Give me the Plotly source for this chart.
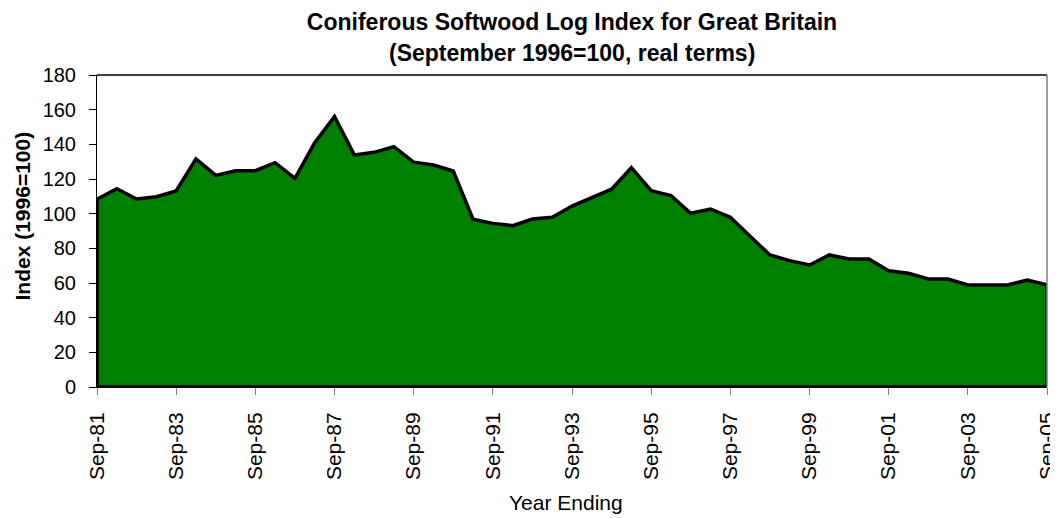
import plotly.graph_objects as go

# Half-yearly index values, Sep-81 ... Sep-05 (Sep and Mar points)
periods = [
    "Sep-81", "Mar-82", "Sep-82", "Mar-83", "Sep-83", "Mar-84", "Sep-84", "Mar-85",
    "Sep-85", "Mar-86", "Sep-86", "Mar-87", "Sep-87", "Mar-88", "Sep-88", "Mar-89",
    "Sep-89", "Mar-90", "Sep-90", "Mar-91", "Sep-91", "Mar-92", "Sep-92", "Mar-93",
    "Sep-93", "Mar-94", "Sep-94", "Mar-95", "Sep-95", "Mar-96", "Sep-96", "Mar-97",
    "Sep-97", "Mar-98", "Sep-98", "Mar-99", "Sep-99", "Mar-00", "Sep-00", "Mar-01",
    "Sep-01", "Mar-02", "Sep-02", "Mar-03", "Sep-03", "Mar-04", "Sep-04", "Mar-05",
    "Sep-05",
]
index_values = [
    108.3, 114.4, 108.5, 109.8, 113.1, 131.6, 122.1, 124.8,
    124.8, 129.4, 120.4, 141.0, 156.0, 133.9, 135.4, 138.7,
    129.7, 128.1, 124.6, 96.8, 94.4, 93.1, 96.9, 97.9,
    104.4, 109.2, 114.1, 126.6, 113.3, 110.4, 100.2, 102.7,
    97.9, 87.0, 76.2, 72.9, 70.4, 76.2, 73.9, 73.9,
    67.1, 65.6, 62.3, 62.3, 58.9, 58.9, 58.9, 61.7,
    58.9,
]
tick_labels = ["Sep-81", "Sep-83", "Sep-85", "Sep-87", "Sep-89", "Sep-91", "Sep-93",
               "Sep-95", "Sep-97", "Sep-99", "Sep-01", "Sep-03", "Sep-05"]

title_line1 = "Coniferous Softwood Log Index for Great Britain"
title_line2 = "(September 1996=100, real terms)"
x_title = "Year Ending"
y_title = "Index (1996=100)"

FONT = "Liberation Sans, Arial, sans-serif"

# the page body has an 8px default margin; size the figure so the plot area
# lands at x 97..1047, y 75..387 of the 1058x518 window
W, H = 1050, 510
OFF = 8
PLOT_TOP, PLOT_H = 75, 312

pos = list(range(len(index_values)))
tick_pos = [pos[periods.index(t)] for t in tick_labels]

# closed polygon (area with outline around the whole shape)
xs = pos + [pos[-1], pos[0], pos[0]]
ys = index_values + [0, 0, index_values[0]]


def py(px):
    """window pixel row -> paper y"""
    return (PLOT_TOP + PLOT_H - px) / PLOT_H


fig = go.Figure()
fig.add_trace(go.Scatter(
    x=xs, y=ys, mode="lines", fill="toself",
    fillcolor="#008000", line=dict(color="#000000", width=3.5),
    hoverinfo="skip", showlegend=False,
))

fig.update_layout(
    width=W, height=H,
    margin=dict(l=97 - OFF, r=W - (1047 - OFF), t=PLOT_TOP - OFF,
                b=H - (PLOT_TOP - OFF) - PLOT_H, autoexpand=False),
    paper_bgcolor="white", plot_bgcolor="white",
    font=dict(family=FONT, color="black", size=20),
    title=dict(
        text="<b>" + title_line1 + "</b>",
        x=0.5, xref="paper", xanchor="center",
        y=1 - (21.5 - OFF) / H, yref="container", yanchor="middle",
        font=dict(family=FONT, size=23, color="black"),
    ),
    xaxis=dict(
        range=[pos[0], pos[-1]],
        tickmode="array", tickvals=tick_pos, ticktext=tick_labels,
        tickangle=-90, ticks="outside", ticklen=7, tickcolor="#808080", tickwidth=1,
        ticklabelstandoff=9,
        showline=True, linecolor="black", linewidth=1,
        showgrid=False, zeroline=False,
        tickfont=dict(size=21),
    ),
    yaxis=dict(
        range=[0, 180], dtick=20, tick0=0,
        ticks="outside", ticklen=7, tickcolor="black", tickwidth=1,
        ticklabelstandoff=9,
        showline=True, linecolor="black", linewidth=1,
        showgrid=False, zeroline=False,
        tickfont=dict(size=20),
    ),
    annotations=[
        dict(text="<b>" + title_line2 + "</b>", xref="paper", yref="paper",
             x=0.5, y=py(53), xanchor="center", yanchor="middle",
             showarrow=False, font=dict(family=FONT, size=23, color="black")),
        dict(text=x_title, xref="paper", yref="paper",
             x=0.4937, y=py(502), xanchor="center", yanchor="middle",
             showarrow=False, font=dict(family=FONT, size=21, color="black")),
        dict(text="<b>" + y_title + "</b>", xref="paper", yref="paper",
             x=(22.5 - 97) / 950, y=py(216), xanchor="center", yanchor="middle",
             textangle=-90, showarrow=False,
             font=dict(family=FONT, size=21, color="black")),
    ],
    shapes=[
        dict(type="line", xref="paper", yref="paper", x0=0, x1=1, y0=1, y1=1,
             line=dict(color="black", width=1.5)),
        dict(type="line", xref="paper", yref="paper", x0=1, x1=1, y0=0, y1=1,
             line=dict(color="#808080", width=1.5)),
    ],
)

fig.write_html("out.html")
